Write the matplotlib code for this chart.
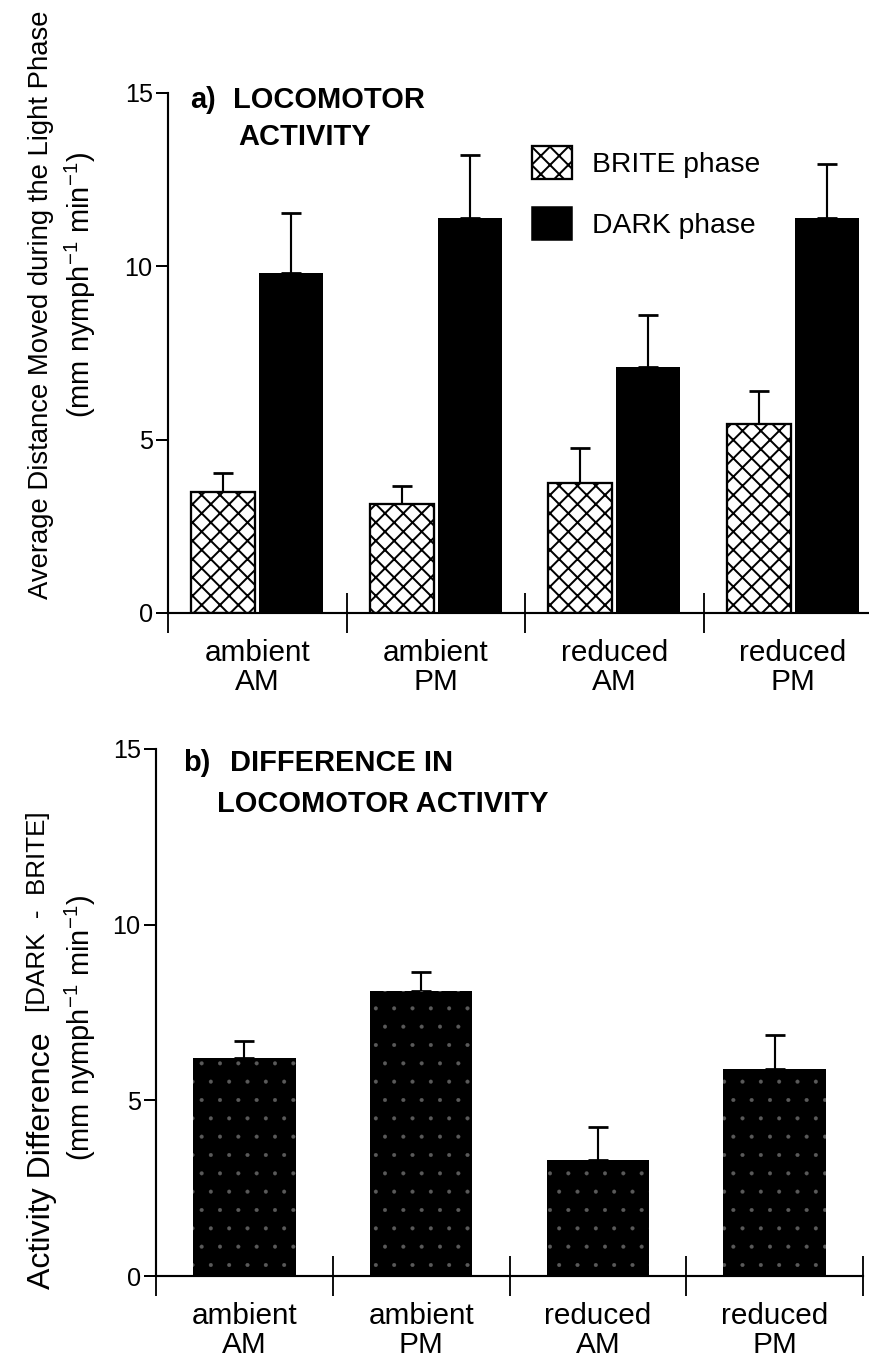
import numpy as np
import matplotlib.pyplot as plt
from matplotlib.patches import Patch

plt.rcParams['font.family'] = ['Liberation Sans', 'DejaVu Sans']
plt.rcParams['mathtext.fontset'] = 'custom'
plt.rcParams['mathtext.rm'] = 'Liberation Sans'
plt.rcParams['mathtext.it'] = 'Liberation Sans:italic'
plt.rcParams['mathtext.bf'] = 'Liberation Sans:bold'
plt.rcParams['hatch.linewidth'] = 1.3

# locomotor activity per treatment (mm nymph-1 min-1), mean and upper SE
groups = ['ambient\nAM', 'ambient\nPM', 'reduced\nAM', 'reduced\nPM']
brite_mean = [3.5, 3.15, 3.75, 5.45]
brite_se = [0.55, 0.5, 1.0, 0.95]
dark_mean = [9.8, 11.4, 7.1, 11.4]
dark_se = [1.75, 1.8, 1.5, 1.55]
diff_mean = [6.2, 8.1, 3.3, 5.9]
diff_se = [0.5, 0.55, 0.95, 0.95]

W, H, DPI = 869, 1363, 110
fig = plt.figure(figsize=(W / DPI, H / DPI), dpi=DPI)
ax1 = fig.add_axes([168 / W, 1 - 613 / H, 714 / W, 520 / H])
ax2 = fig.add_axes([156 / W, 1 - 1276 / H, 707 / W, 527 / H])

x = np.arange(len(groups))


def style_axes(ax):
    ax.set_xlim(0, 4)
    ax.set_ylim(0, 15)
    ax.spines['top'].set_visible(False)
    ax.spines['right'].set_visible(False)
    ax.spines['left'].set_linewidth(1.4)
    ax.spines['bottom'].set_linewidth(1.4)
    ax.set_yticks([0, 5, 10, 15])
    ax.tick_params(axis='y', direction='out', length=8, width=1.3,
                   labelsize=16.5, pad=2)
    ax.set_xticks(np.arange(5))
    ax.set_xticklabels([])
    ax.tick_params(axis='x', which='major', direction='inout', length=26,
                   width=1.2)
    ax.set_xticks(x + 0.5, minor=True)
    ax.set_xticklabels(groups, minor=True, fontsize=19.5, linespacing=1.05)
    ax.tick_params(axis='x', which='minor', length=0, pad=17)


# a) BRITE vs DARK phase
style_axes(ax1)
ax1.bar(x + 0.31, brite_mean, 0.36, facecolor='white', edgecolor='black',
        hatch='xx', linewidth=1.5, zorder=2)
ax1.bar(x + 0.69, dark_mean, 0.36, color='black', zorder=2)
ax1.errorbar(x + 0.31, brite_mean, yerr=[np.zeros(4), brite_se], fmt='none',
             ecolor='black', elinewidth=1.4, capsize=6.5, capthick=1.8,
             zorder=1)
ax1.errorbar(x + 0.69, dark_mean, yerr=[np.zeros(4), dark_se], fmt='none',
             ecolor='black', elinewidth=1.4, capsize=6.5, capthick=1.8,
             zorder=1)

handles = [Patch(facecolor='white', edgecolor='black', hatch='xx',
                 linewidth=1.5),
           Patch(facecolor='black', edgecolor='black')]
fig.legend(handles, ['BRITE phase', 'DARK phase'], loc='upper left',
           bbox_to_anchor=(532 / W, 1 - 146 / H), frameon=False,
           fontsize=18.5, handlelength=1.42, handleheight=1.42,
           handletextpad=0.72, labelspacing=1.0, borderpad=0,
           borderaxespad=0)

# b) DARK - BRITE difference, black stippled bars
style_axes(ax2)
bars = ax2.bar(x + 0.5, diff_mean, 0.58, facecolor='black',
               edgecolor='#5a5a5a', hatch='.', linewidth=0, zorder=2)
for b in bars:
    if hasattr(b, 'set_hatch_linewidth'):
        b.set_hatch_linewidth(0.2)
ax2.errorbar(x + 0.5, diff_mean, yerr=[np.zeros(4), diff_se], fmt='none',
             ecolor='black', elinewidth=1.4, capsize=6.5, capthick=1.8,
             zorder=1)

# panel titles
title_kw = dict(fontsize=19, fontweight='bold', va='top', ha='left')
fig.text(190 / W, 1 - 86 / H, 'a)', **title_kw)
fig.text(233 / W, 1 - 86 / H, 'LOCOMOTOR', **title_kw)
fig.text(238 / W, 1 - 123 / H, 'ACTIVITY', **title_kw)
fig.text(183 / W, 1 - 749 / H, 'b)', **title_kw)
fig.text(230 / W, 1 - 749 / H, 'DIFFERENCE IN', **title_kw)
fig.text(217 / W, 1 - 790 / H, 'LOCOMOTOR ACTIVITY', **title_kw)

# y axis labels
units = '(mm nymph$^{-1}$ min$^{-1}$)'
lab_kw = dict(rotation=90, ha='center', va='center')
fig.text(41 / W, 1 - 305 / H, 'Average Distance Moved during the Light Phase',
         fontsize=18, **lab_kw)
fig.text(80 / W, 1 - 285 / H, units, fontsize=19, **lab_kw)
fig.text(42 / W, 1 - 1161 / H, 'Activity Difference', fontsize=21, **lab_kw)
fig.text(38 / W, 1 - 912 / H, '[DARK  -  BRITE]', fontsize=17, **lab_kw)
fig.text(80 / W, 1 - 1028 / H, units, fontsize=19, **lab_kw)

fig.savefig('out.png', dpi=DPI)
